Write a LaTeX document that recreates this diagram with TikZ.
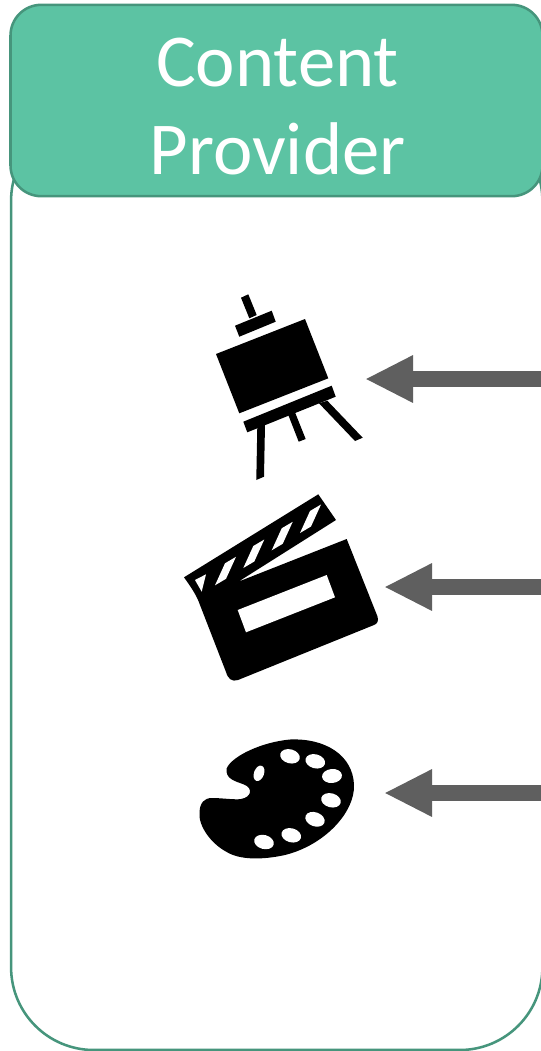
\documentclass[tikz,border=0pt]{standalone}
\usepackage{fontspec}
\setmainfont{Carlito}
\usetikzlibrary{arrows.meta}
\definecolor{headerGreen}{HTML}{5CC3A3}
\definecolor{edgeGreen}{HTML}{46957C}
\definecolor{arrowGray}{HTML}{5F5F5F}
\tikzset{
  panelbox/.style={draw=edgeGreen, line width=1.9pt, rounded corners=62pt, fill=white,
                   minimum width=398.5pt, minimum height=699pt},
  headerbox/.style={draw=edgeGreen, line width=1.9pt, rounded corners=23pt, fill=headerGreen,
                    text=white, align=center, minimum width=399pt, minimum height=143.5pt,
                    font=\fontsize{56}{66}\selectfont},
  feedarrow/.style={-{Triangle[length=36pt, width=33pt]}, line width=12pt, arrowGray},
  icon/.style={fill=black, draw=none},
  hole/.style={fill=white, draw=none},
}
\begin{document}
\begin{tikzpicture}[x=0.75pt, y=-0.75pt]
\useasboundingbox (0,0) rectangle (540,1051);

% ------------------------------------------------- the panel and its header
\node[panelbox] (panel) at (276.75,584) {};
\node[headerbox] (header) at (276.5,100.5) {};
\node[text=white, align=center, font=\fontsize{56}{66}\selectfont] (title) at (277.5,106.5)
  {Content\\Provider};

% ----------------------------------------------------------------- the easel
\fill[icon] (216,354) -- (305,319) -- (328.3,378.3) -- (239.3,413.3) -- cycle;
\fill[icon] (235,325.7) -- (271.7,310.7) -- (275.7,321.7) -- (239.3,336.7) -- cycle;
\fill[icon] (241,297.7) -- (248.3,294.3) -- (256.7,315) -- (249.3,318.3) -- cycle;
\fill[icon] (243.3,421.7) -- (331.7,385.7) -- (335.7,396.7) -- (247.3,432.3) -- cycle;
\fill[icon] (257.3,426.7) -- (265,424.3) -- (264,476.7) -- (256.3,480) -- cycle;
\fill[icon] (288.3,415) -- (295,412.3) -- (305.7,439) -- (298.7,441.7) -- cycle;
\fill[icon] (319,403.3) -- (327.3,400.7) -- (362.7,437.7) -- (355,441) -- cycle;

% ------------------------------------------------------------- the clapboard
\fill[icon] (184,577.3) -- (318.3,494.3) -- (336,520) -- (238.3,581.7)
  -- (346.7,539) -- (377.5,616.5) .. controls (379,621) and (377,624) .. (374,625)
  -- (238,680) .. controls (232,682) and (228,679) .. (226,672)
  -- (200,605) .. controls (197,596) and (191,587) .. cycle;
\fill[hole] (237.7,610) -- (326.7,575) -- (335,597.3) -- (246,632.3) -- cycle;
\fill[hole] (195,580) -- (206,574.3) -- (201.7,591.7) -- cycle;
\foreach \x/\y in {225/563.3, 253.3/546, 281.7/528.3, 310/511}
  \fill[hole] (\x,\y) -- ++(11,-6.5) -- ++(-10,22) -- ++(-11,6.5) -- cycle;

% --------------------------------------------------------------- the palette
\fill[icon] (226.7,768.3) .. controls (232,756) and (262,742) .. (290,739.5)
  .. controls (325,738) and (353,755) .. (354,785)
  .. controls (355,812) and (325,845) .. (285,855)
  .. controls (262,860) and (240,860) .. (226.7,852)
  .. controls (210,843) and (198,825) .. (199.5,812)
  .. controls (200,803) and (204,798) .. (212,798)
  .. controls (222,798) and (235,800) .. (241,799)
  .. controls (252,797) and (253,788) .. (244,784.5)
  .. controls (235,781) and (225,779) .. (226.7,768.3) -- cycle;
\foreach \x/\y/\a in {290/756.3/-15, 315.3/761.3/-15, 332/776/5, 331/800.3/-15,
                      315/819.3/-20, 291.3/835.3/-15, 264/842/-15}
  \fill[hole, rotate around={\a:(\x,\y)}] (\x,\y) ellipse [x radius=10, y radius=7];
\fill[hole, rotate around={-20:(259,773.3)}] (259,773.3) ellipse [x radius=5, y radius=8];

% ---------------------------------------------------- the arrows to the icons
\foreach \i/\y/\tip in {1/379/365, 2/587/384, 3/793/384}{
  \coordinate (from\i) at (541,\y);
  \coordinate (to\i) at (\tip,\y);
  \draw[feedarrow] (from\i) -- (to\i);}

\end{tikzpicture}
\end{document}
